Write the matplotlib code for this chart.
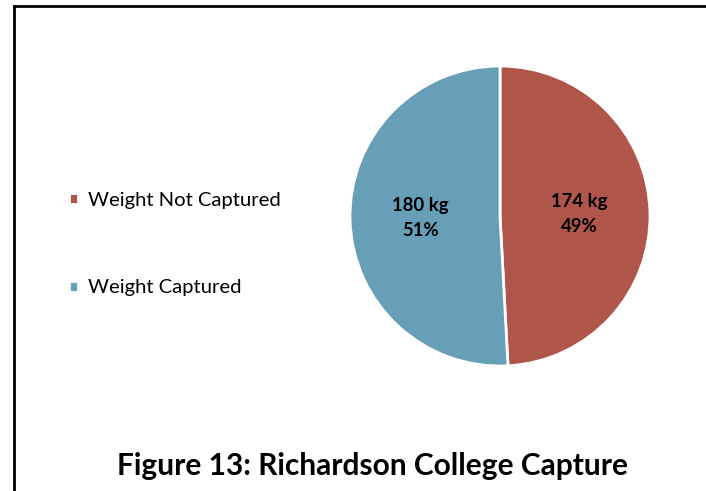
import matplotlib
matplotlib.use("Agg")
import matplotlib.pyplot as plt
from matplotlib.lines import Line2D

categories = ["Weight Not Captured", "Weight Captured"]
weights_kg = [174, 180]
colors = ["#B0554A", "#679EB8"]
title = "Figure 13: Richardson College Capture"

plt.rcParams['font.family'] = ['Lato', 'DejaVu Sans']

fig = plt.figure(figsize=(7.06, 4.91), dpi=100)
fig.patch.set_facecolor("white")

W, H = 706, 491
ax = fig.add_axes([350 / W, (H - 366) / H, 300 / W, 300 / H])

total = sum(weights_kg)

def fmt(pct):
    val = int(round(pct * total / 100.0))
    return f"{val} kg\n{pct:.0f}%"

wedges, texts, autotexts = ax.pie(
    weights_kg, colors=colors, startangle=90, counterclock=False,
    autopct=fmt, pctdistance=0.53,
    wedgeprops=dict(edgecolor="white", linewidth=2),
    textprops=dict(fontsize=13.3, fontweight="bold", color="black"),
)
for t in autotexts:
    t.set_linespacing(1.6)
ax.set_xlim(-1.0, 1.0)
ax.set_ylim(-1.0, 1.0)
ax.set_aspect("equal")

fig.legend(wedges, categories, loc="center left",
           bbox_to_anchor=(69 / W, (H - 244) / H),
           frameon=False, fontsize=14.6, borderpad=0, borderaxespad=0,
           handlelength=0.45, handleheight=0.45, handletextpad=0.5,
           labelspacing=3.5)

# border lines (chart frame)
fig.add_artist(Line2D([14 / W, 14 / W], [0, 1 - 6 / H], transform=fig.transFigure,
                      color="black", linewidth=2))
fig.add_artist(Line2D([14 / W, 1], [1 - 6 / H, 1 - 6 / H], transform=fig.transFigure,
                      color="black", linewidth=2))

fig.text(373 / W, (H - 466) / H, title, ha="center", va="center",
         fontsize=21.5, fontweight="bold")

fig.savefig("out.png", dpi=100, facecolor="white")
